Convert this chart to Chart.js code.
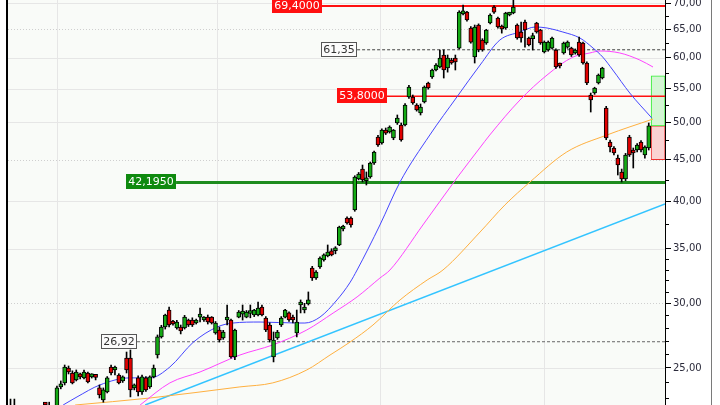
<!DOCTYPE html>
<html><head><meta charset="utf-8">
<script src="https://cdn.jsdelivr.net/npm/chart.js@4/dist/chart.umd.min.js"></script>
<style>html,body{margin:0;padding:0;background:#fff;}canvas{display:block;}</style>
</head><body>
<canvas id="c" width="720" height="405"></canvas>
<script>
// ---------- DATA (daily candles, index = trading day) ----------
const opens  = [22.3,22.5,22.2,21.8,21.5,21.7,21.9,21.6,21.8,22.1,22.0,22.2,
 22.3,23.70,23.97,25.0,24.65,24.17,24.51,24.31,24.65,24.38,24.38,23.63,22.84,23.37,25.07,24.86,24.51,24.10,
 25.71,25.71,23.63,24.31,23.37,24.31,23.70,24.38,25.93,27.29,28.06,29.44,28.46,27.99,28.06,27.99,28.62,28.62,
 28.38,28.86,28.62,28.86,28.86,27.60,27.83,27.21,28.62,28.62,25.79,28.86,29.1,28.86,29.15,29.03,29.03,29.69,
 28.78,28.22,25.79,27.21,28.22,28.86,29.2,28.78,27.60,29.86,29.44,29.95,33.13,32.22,33.24,33.9,34.29,34.78,
 34.8,35.37,37.0,38.16,38.16,39.04,42.61,43.82,42.4,42.85,44.57,47.96,47.16,48.92,48.65,47.83,49.9,49.62,
 49.62,53.70,53.70,52.50,51.33,52.94,55.86,56.81,57.95,58.44,60.45,58.28,59.6,59.94,61.65,67.9,68.24,65.24,
 60.11,65.79,63.06,62.53,66.16,69.2,67.1,65.42,65.24,67.67,68.05,65.79,64.5,66.35,63.42,63.3,66.16,64.87,
 60.96,61.31,61.65,61.31,58.77,60.8,61.8,61.65,60.8,62.7,62.53,59.1,54.0,54.3,55.86,56.65,52.06,47.3,
 46.5,45.2,43.46,42.61,47.96,46.24,46.24,47.3,45.59,46.50];
const highs  = [22.9,22.9,22.4,22.1,21.9,22.1,22.2,22.0,22.3,22.4,22.7,22.4,
 23.76,24.1,25.21,25.14,24.8,24.86,24.65,24.86,24.72,24.6,24.51,23.83,23.63,24.4,25.21,25.14,24.6,24.45,
 26.15,26.30,23.9,24.45,24.5,24.4,24.45,25.21,27.44,28.2,29.1,29.69,28.6,28.6,28.22,29.0,28.7,28.8,
 28.7,29.6,28.9,29.03,28.9,28.5,28.06,27.8,29.86,28.7,27.9,29.4,29.86,29.4,29.86,29.5,30.1,29.86,
 28.9,28.4,27.67,27.8,28.9,29.5,29.3,29.03,29.44,30.29,30.0,30.98,33.3,32.9,34.2,34.5,35.37,35.0,
 35.2,37.3,37.4,38.3,38.3,43.0,43.4,44.32,43.46,44.7,46.1,48.2,49.1,49.2,49.5,49.0,51.04,49.9,
 52.7,55.5,54.0,52.7,52.65,55.4,56.0,58.1,59.0,61.31,61.31,60.45,59.9,60.45,68.5,69.61,68.4,65.5,
 65.79,66.0,63.3,65.0,67.9,69.5,67.3,65.79,68.2,68.2,71.0,66.0,66.35,66.72,63.6,64.3,66.3,65.0,
 62.9,62.9,63.6,61.5,59.1,62.7,62.9,61.8,61.5,63.6,62.7,59.3,54.3,55.2,57.3,58.4,52.3,47.56,
 46.7,45.59,43.82,45.8,48.2,46.5,47.1,47.5,46.8,49.9];
const lows   = [21.9,22.0,21.6,21.3,21.1,21.4,21.5,21.2,21.6,21.8,21.8,21.7,
 22.2,23.57,23.83,24.58,23.9,24.1,24.24,24.24,23.97,24.3,24.17,22.97,22.7,23.3,24.51,24.51,23.9,24.0,
 24.65,23.04,23.5,23.1,23.2,23.4,23.6,24.31,25.71,27.2,27.9,28.06,28.2,27.9,27.52,27.9,28.1,28.1,
 28.3,28.46,28.5,28.3,28.3,27.5,26.9,27.1,28.22,25.7,25.6,28.8,28.62,28.8,28.8,28.9,28.95,28.95,
 27.7,26.9,25.43,27.1,28.1,28.8,28.5,28.38,27.29,29.2,29.2,29.86,32.0,32.1,33.1,33.8,34.2,34.3,
 34.5,35.3,36.8,37.5,37.2,38.9,42.5,42.25,41.89,42.7,44.4,46.7,47.0,48.3,48.5,47.6,49.7,47.4,
 49.5,53.5,52.6,51.6,51.04,52.8,54.9,56.6,57.8,58.3,56.65,57.6,58.9,57.95,61.5,67.7,66.5,62.5,
 59.1,61.0,61.1,62.3,66.0,68.0,65.2,64.3,65.0,67.5,67.9,63.2,62.7,61.8,62.0,61.31,64.3,62.3,
 60.8,61.1,61.5,58.2,58.28,60.6,61.6,60.2,60.6,60.2,58.9,55.6,51.47,54.1,55.7,56.5,47.6,45.98,
 45.6,43.09,42.25,42.4,45.4,43.95,46.0,46.0,45.2,46.24];
const closes = [22.5,22.2,21.8,21.5,21.7,21.9,21.6,21.8,22.1,22.0,22.4,21.9,
 23.63,23.90,25.07,24.72,23.97,24.72,24.38,24.72,24.03,24.51,24.34,23.17,23.50,24.31,24.65,24.93,23.97,24.38,
 24.86,23.50,23.83,23.37,24.38,23.50,24.38,25.0,27.29,28.06,29.03,28.22,28.30,28.46,27.75,28.86,28.22,28.22,
 28.62,28.94,28.78,28.46,28.38,28.38,27.05,27.67,28.78,25.79,27.83,29.27,29.2,29.27,29.2,29.44,29.6,29.03,
 27.83,27.05,27.05,27.67,28.78,29.44,28.62,28.62,28.46,30.0,29.6,30.29,32.22,32.77,34.09,34.4,34.68,34.39,
 34.9,37.21,37.2,37.63,37.42,42.85,43.21,42.49,42.5,44.57,45.98,46.90,48.92,48.5,49.34,48.92,50.6,47.56,
 52.50,55.23,52.80,51.76,52.21,55.23,55.08,57.95,58.77,59.94,57.95,59.94,59.1,59.27,68.24,68.3,66.72,62.7,
 65.42,61.31,61.31,64.87,67.67,68.24,65.42,65.05,68.05,68.05,69.2,63.42,63.42,64.87,62.18,63.5,64.5,62.53,
 62.7,62.7,63.42,58.44,58.6,62.53,62.7,60.45,61.31,60.45,59.1,55.86,53.24,55.08,57.13,58.28,47.83,46.63,
 45.85,44.32,42.61,45.59,45.59,45.85,46.90,46.24,46.63,49.5];

// moving averages: [day, price]
const maBlue    = [[13.6,22.52],[17.2,23.04],[23.1,23.83],[30.9,24.31],[36.1,24.31],[41.2,25.07],[47.2,26.87],[53.4,28.06],[57.5,28.38],[64.5,28.46],[74.1,28.38],[76.1,28.38],[80.0,28.86],[84.4,30.29],[87.7,31.78],[89.6,32.96],[95.5,37.42],[100.7,42.25],[108.4,48.24],[115.4,53.7],[121.4,58.77],[126.5,63.06],[131.7,64.5],[135.6,65.42],[138.7,65.24],[142.8,64.5],[147.2,63.42],[150.6,61.65],[153.1,60.1],[155.7,57.95],[160.1,54.3],[165.8,50.6]];
const maMagenta = [[33.5,22.52],[41.2,23.97],[49.0,24.72],[59.3,25.93],[67.8,26.68],[76.6,27.83],[83.4,29.19],[89.6,30.55],[95.5,32.22],[98.1,32.96],[106.6,37.42],[115.4,42.73],[121.3,46.5],[123.9,48.24],[131.7,53.24],[138.7,57.13],[145.4,60.1],[149.8,60.8],[152.4,61.14],[157.5,60.8],[162.7,59.6],[166.1,58.44]];
const maOrange  = [[16.7,22.52],[36.1,22.97],[59.3,23.70],[67.8,23.97],[76.6,24.86],[82.6,25.93],[87.8,26.9],[93.7,28.22],[100.7,30.29],[107.7,32.04],[111.8,32.96],[121.4,36.69],[127.8,39.59],[134.3,42.25],[143.8,45.98],[154.2,48.24],[166.1,50.46]];
const trendCyan = [[34.8,22.52],[169.2,39.7]];

// horizontal levels
const levelValues = [69.4, 61.35, 53.8, 42.195, 26.92];
const levelLabels = ['69,4000','61,35','53,8000','42,1950','26,92'];
const levelStart  = [80.5, 89.6, 97.3, 42.8, 32.7];
const levelEnd    = 169.2;

// projection boxes
const projDay = 167.42;
const projUp = [49.5, 57];
const projDown = [45, 49.5];

// axis ticks
const yMajor = [25,30,35,40,45,50,55,60,65,70];
const yMinor = [23,24,26,27,28,29,31,32,33,34,37.5,42.5,47.5,52.5,57.5,62.5,67.5];
const dottedMajors = [30,45,65];
const monthBreaks = [12, 53.4, 95.5, 137.9];
const xMin = -0.65, xMax = 169.2, yMin = 22.52, yMax = 70.6;

// ---------- STYLE ----------
const UP='#14aa14', DN='#e00000';
const levelStyle = [
  {color:'#ff1010', width:2, dash:[], box:'#ff1010', text:'#ffffff', border:'#ff1010'},
  {color:'#444444', width:1, dash:[3,2], box:'#fbfbfb', text:'#333333', border:'#555555'},
  {color:'#ff1010', width:1.5, dash:[], box:'#ff1010', text:'#ffffff', border:'#ff1010'},
  {color:'#1e8c1e', width:3, dash:[], box:'#0f8a0f', text:'#ffffff', border:'#0f8a0f'},
  {color:'#666666', width:1, dash:[3,2], box:'#fbfbfb', text:'#333333', border:'#555555'}
];
const FONT = "'DejaVu Sans', Verdana, sans-serif";

const pts = arr => arr.map(([x,y]) => ({x, y}));
const wickData = highs.map((h,i) => ({x:i, y:[lows[i], h]}));
const bodyData = opens.map((o,i) => ({x:i, y:[Math.min(o,closes[i]), Math.max(o,closes[i])]}));

const datasets = [
  {type:'bar', data: bodyData, grouped:false, order:1, barThickness:4, minBarLength:3,
   backgroundColor: c => closes[c.dataIndex] >= opens[c.dataIndex] ? UP : DN,
   borderColor:'#000', borderWidth:1, borderSkipped:false},
  {type:'bar', data: wickData, grouped:false, order:2, barThickness:1, minBarLength:1,
   backgroundColor:'#000', borderWidth:0},
  {type:'line', data: pts(maBlue), order:3, borderColor:'#4646ff', borderWidth:1, pointRadius:0, cubicInterpolationMode:'monotone'},
  {type:'line', data: pts(maMagenta), order:4, borderColor:'#ff44ff', borderWidth:1, pointRadius:0, cubicInterpolationMode:'monotone'},
  {type:'line', data: pts(maOrange), order:5, borderColor:'#ffb040', borderWidth:1, pointRadius:0, cubicInterpolationMode:'monotone'},
  {type:'line', data: pts(trendCyan), order:6, borderColor:'#33c4ff', borderWidth:1.5, pointRadius:0},
  {type:'bar', data:[{x:projDay, y:projUp}], grouped:false, order:9, barThickness:14,
   backgroundColor:'#d4f6d4', borderColor:'#33ee33', borderWidth:1, borderSkipped:false},
  {type:'bar', data:[{x:projDay, y:projDown}], grouped:false, order:9, barThickness:14,
   backgroundColor:'#fad2d2', borderColor:'#ee3030', borderWidth:1, borderSkipped:false}
];
levelValues.forEach((v,i) => {
  const s = levelStyle[i];
  datasets.push({type:'line', data:[{x:levelStart[i], y:v},{x:levelEnd, y:v}], order:7,
    borderColor:s.color, borderWidth:s.width, borderDash:s.dash, pointRadius:0});
});

const deco = {
  id:'deco',
  beforeDraw(chart){
    const {ctx, chartArea:a} = chart;
    const ys = chart.scales.y, xs = chart.scales.x;
    ctx.save();
    ctx.fillStyle='#ffffff'; ctx.fillRect(0,0,chart.width,chart.height);
    ctx.fillStyle='#f9fbf8'; ctx.fillRect(a.left,a.top,a.right-a.left,a.bottom-a.top);
    ctx.lineWidth=1;
    yMajor.forEach(v => {
      const y = Math.round(ys.getPixelForValue(v)) + 0.5;
      const dotted = dottedMajors.includes(v);
      ctx.strokeStyle = dotted ? '#cfcfcf' : '#e6e6e6';
      ctx.setLineDash(dotted ? [1,2] : []);
      ctx.beginPath(); ctx.moveTo(a.left,y); ctx.lineTo(a.right,y); ctx.stroke();
    });
    ctx.setLineDash([]);
    ctx.strokeStyle='#e6e6e6';
    monthBreaks.forEach(d => {
      const x = Math.round(xs.getPixelForValue(d)) + 0.5;
      ctx.beginPath(); ctx.moveTo(x,a.top); ctx.lineTo(x,a.bottom); ctx.stroke();
    });
    ctx.restore();
  },
  afterDatasetsDraw(chart){
    const {ctx} = chart;
    const ys = chart.scales.y, xs = chart.scales.x;
    ctx.save();
    ctx.font = "11px " + FONT;
    ctx.textBaseline='middle'; ctx.textAlign='center';
    levelValues.forEach((v,i) => {
      const s = levelStyle[i];
      const right = Math.round(xs.getPixelForValue(levelStart[i]));
      const cy = ys.getPixelForValue(v) - 0.5;
      const w = Math.ceil(ctx.measureText(levelLabels[i]).width) + 4;
      const h = 15;
      const x0 = right - w, y0 = Math.round(cy - h/2);
      ctx.fillStyle = s.box; ctx.fillRect(x0, y0, w, h);
      ctx.strokeStyle = s.border; ctx.lineWidth=1; ctx.strokeRect(x0+0.5, y0+0.5, w-1, h-1);
      ctx.fillStyle = s.text; ctx.fillText(levelLabels[i], x0 + w/2, y0 + h/2 + 0.5);
    });
    ctx.restore();
  },
  afterDraw(chart){
    const {ctx, chartArea:a} = chart;
    const ys = chart.scales.y;
    ctx.save();
    ctx.strokeStyle='#000'; ctx.lineWidth=1;
    yMinor.forEach(v => {
      const y = Math.round(ys.getPixelForValue(v)) + 0.5;
      ctx.beginPath(); ctx.moveTo(a.right,y); ctx.lineTo(a.right+4,y); ctx.stroke();
    });
    ctx.fillStyle='#000'; ctx.fillRect(a.left-2, 0, 2, chart.height);
    ctx.fillStyle='#7a7a7a'; ctx.fillRect(711, 0, 1, chart.height);
    ctx.restore();
  }
};

new Chart(document.getElementById('c'), {
  type:'bar',
  data:{datasets},
  options:{
    responsive:false, animation:false, devicePixelRatio:1,
    layout:{padding:{left:8,right:0,top:0,bottom:0}},
    plugins:{legend:{display:false}, tooltip:{enabled:false}},
    scales:{
      x:{type:'linear', display:false, offset:false, min:xMin, max:xMax},
      y:{type:'logarithmic', position:'right', min:yMin, max:yMax,
        afterBuildTicks: s => { s.ticks = yMajor.map(v => ({value:v})); },
        afterFit: s => { s.width = 55; s.paddingTop = 0; s.paddingBottom = 0; },
        grid:{drawOnChartArea:false, drawTicks:true, tickLength:6, tickColor:'#000', color:'#000'},
        border:{display:true, color:'#000', width:1},
        ticks:{autoSkip:false, padding:2, color:'#2b2b3b', font:{family:FONT, size:10},
          callback: v => Number(v).toFixed(2).replace('.', ',')}
      }
    }
  },
  plugins:[deco]
});
</script>
</body></html>
